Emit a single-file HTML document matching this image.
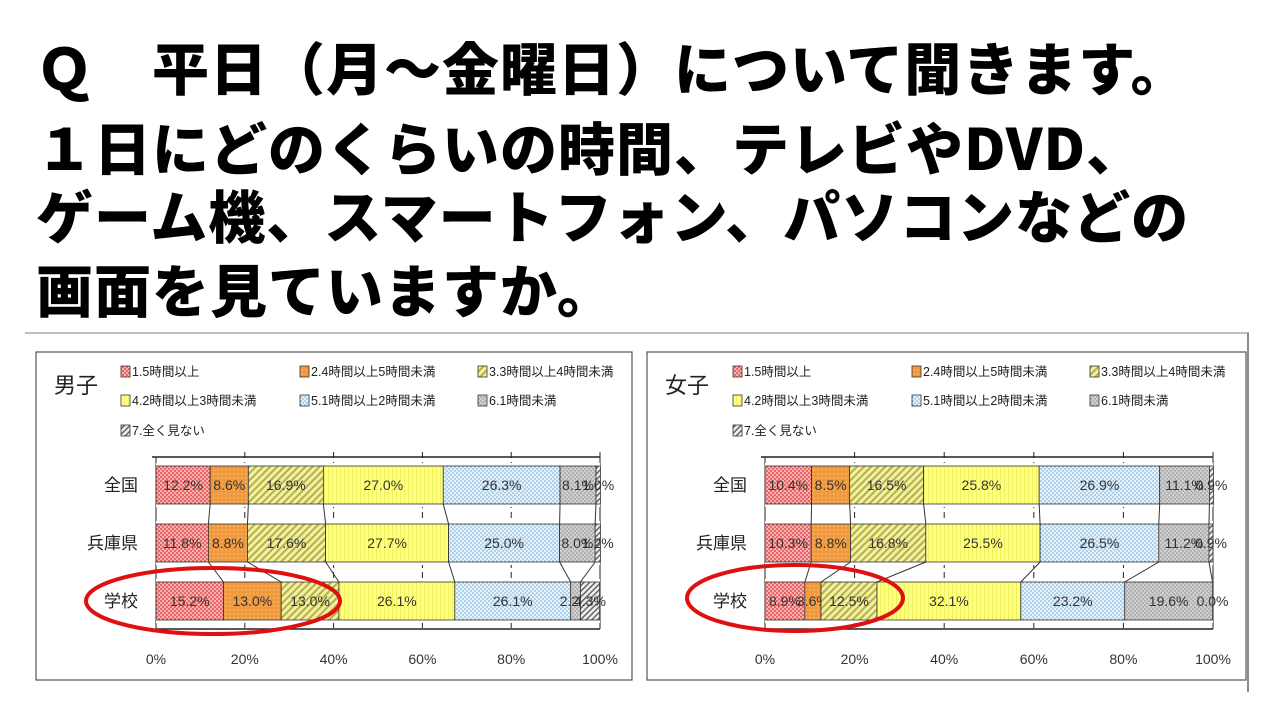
<!DOCTYPE html>
<html><head><meta charset="utf-8"><style>
body{margin:0;width:1280px;height:720px;background:#fff;overflow:hidden;position:relative;font-family:"Liberation Sans","Noto Sans CJK JP",sans-serif}
.t{position:absolute;left:36px;font-family:"Noto Sans CJK JP","WenQuanYi Zen Hei",sans-serif;font-weight:900;font-size:57px;line-height:57px;white-space:nowrap;color:#000;letter-spacing:1px}
svg{position:absolute;left:0;top:0}
</style></head><body>
<div class="t" style="top:38px">Ｑ　平日（月～金曜日）について聞きます。</div>
<div class="t" style="top:118px">１日にどのくらいの時間、テレビやDVD、</div>
<div class="t" style="top:186px">ゲーム機、スマートフォン、パソコンなどの</div>
<div class="t" style="top:260px">画面を見ていますか。</div>
<svg id="s" width="1280" height="720" xmlns="http://www.w3.org/2000/svg">
<defs>
<pattern id="p0" width="4" height="4" patternUnits="userSpaceOnUse"><rect width="4" height="4" fill="#f6b0b0"/><circle cx="1" cy="1" r="0.9" fill="#e03030"/><circle cx="3" cy="3" r="0.9" fill="#e03030"/></pattern>
<pattern id="p1" width="4" height="4" patternUnits="userSpaceOnUse"><rect width="4" height="4" fill="#f0983c"/><circle cx="2" cy="2" r="0.6" fill="#ffd8a0"/></pattern>
<pattern id="p2" width="5" height="5" patternUnits="userSpaceOnUse" patternTransform="rotate(45)"><rect width="5" height="5" fill="#f0f0a8"/><rect width="2" height="5" fill="#b8b040"/></pattern>
<pattern id="p3" width="4" height="4" patternUnits="userSpaceOnUse"><rect width="4" height="4" fill="#ffff80"/><rect width="1" height="4" fill="#f0f060"/></pattern>
<pattern id="p4" width="4" height="4" patternUnits="userSpaceOnUse"><rect width="4" height="4" fill="#e4f2fb"/><circle cx="1" cy="1" r="0.6" fill="#3080c0"/><circle cx="3" cy="3" r="0.6" fill="#3080c0"/></pattern>
<pattern id="p5" width="4" height="4" patternUnits="userSpaceOnUse"><rect width="4" height="4" fill="#cfcfcf"/><circle cx="1" cy="1" r="0.7" fill="#888"/><circle cx="3" cy="3" r="0.7" fill="#888"/></pattern>
<pattern id="p6" width="4" height="4" patternUnits="userSpaceOnUse" patternTransform="rotate(45)"><rect width="4" height="4" fill="#eee"/><rect width="1.5" height="4" fill="#666"/></pattern>
</defs>
<line x1="25" y1="333" x2="1249" y2="333" stroke="#aaa" stroke-width="1.5"/>
<line x1="1248" y1="333" x2="1248" y2="692" stroke="#666" stroke-width="1.5"/>
</svg>
<script>
const s=document.getElementById('s');const NS='http://www.w3.org/2000/svg';
function el(t,a,txt){const e=document.createElementNS(NS,t);for(const k in a)e.setAttribute(k,a[k]);if(txt!==undefined)e.textContent=txt;s.appendChild(e);return e;}
const leg=['1.5時間以上','2.4時間以上5時間未満','3.3時間以上4時間未満','4.2時間以上3時間未満','5.1時間以上2時間未満','6.1時間未満','7.全く見ない'];
function panel(bx,bw,title,x0,x1,lx,data,ell){
 el('rect',{x:bx,y:352,width:bw,height:328,fill:'#fff',stroke:'#555','stroke-width':1.2});
 el('text',{x:bx+18,y:393,'font-size':22,fill:'#222'},title);
 const pos=[[lx[0],376],[lx[1],376],[lx[2],376],[lx[0],405],[lx[1],405],[lx[2],405],[lx[0],435]];
 pos.forEach((p,i)=>{el('rect',{x:p[0],y:p[1]-10,width:9,height:11,fill:'url(#p'+i+')',stroke:'#333','stroke-width':0.8});
  el('text',{x:p[0]+11,y:p[1],'font-size':12.5,fill:'#222'},leg[i]);});
 const W=x1-x0;
 el('line',{x1:x0-4,y1:457,x2:x1,y2:457,stroke:'#222','stroke-width':1.5});
 el('line',{x1:x0,y1:457,x2:x0,y2:629,stroke:'#222','stroke-width':1});
 el('line',{x1:x0,y1:629,x2:x1,y2:629,stroke:'#222','stroke-width':1.5});
 for(let i=1;i<=5;i++){const x=x0+W*i/5;el('line',{x1:x,y1:452,x2:x,y2:629,stroke:'#222','stroke-width':1,'stroke-dasharray':i==5?'':'6,4'});}
 for(let i=0;i<=5;i++){el('text',{x:x0+W*i/5,y:664,'font-size':14,'text-anchor':'middle',fill:'#333'},(i*20)+'%');}
 const ys=[466,524,582],h=38,names=['全国','兵庫県','学校'];
 const bounds=[];
 data.forEach((d,r)=>{let c=0;const b=[];const y=ys[r];
  el('rect',{x:x0,y:y-3,width:W,height:h+6,fill:'#fff'});
  d.forEach((v,i)=>{const x=x0+W*c/100;const w=W*v/100;
   el('rect',{x:x,y:y,width:w,height:h,fill:'url(#p'+i+')',stroke:'#333','stroke-width':0.8});
   c+=v;b.push(x0+W*Math.min(c,100)/100);
   el('text',{x:x+w/2,y:y+h/2+5,'font-size':14,'text-anchor':'middle',fill:'#333'},v.toFixed(1)+'%');});
  el('text',{x:x0-18,y:y+h/2+6,'font-size':17,'text-anchor':'end',fill:'#222'},names[r]);
  bounds.push(b);});
 for(let r=0;r<2;r++)for(let i=0;i<6;i++)el('line',{x1:bounds[r][i],y1:ys[r]+h,x2:bounds[r+1][i],y2:ys[r+1],stroke:'#333','stroke-width':1});
 el('ellipse',{cx:ell[0],cy:ell[1],rx:ell[2],ry:33,fill:'none',stroke:'#e01010','stroke-width':4});
}
panel(36,596,'男子',156,600,[121,300,478],[[12.2,8.6,16.9,27.0,26.3,8.1,1.0],[11.8,8.8,17.6,27.7,25.0,8.0,1.2],[15.2,13.0,13.0,26.1,26.1,2.2,4.3]],[213,601,127]);
panel(647,599,'女子',765,1213,[733,912,1090],[[10.4,8.5,16.5,25.8,26.9,11.1,0.9],[10.3,8.8,16.8,25.5,26.5,11.2,0.9],[8.9,3.6,12.5,32.1,23.2,19.6,0.0]],[795,598,108]);
</script>
</body></html>
